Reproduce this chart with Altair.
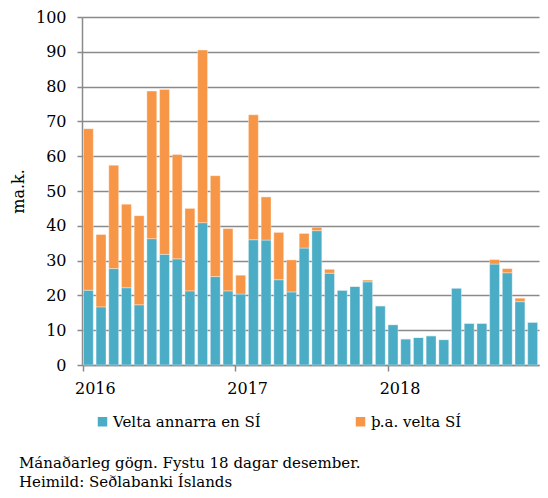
import altair as alt
import pandas as pd

years = ["2016", "2017", "2018"]
month_index = list(range(36))
blue = [21.5, 16.7, 27.7, 22.2, 17.3, 36.3, 31.8, 30.5, 21.3, 40.9, 25.4, 21.3,
        20.4, 36.0, 35.9, 24.5, 21.0, 33.6, 38.6, 26.4, 21.5, 22.6, 23.9, 17.0,
        11.6, 7.5, 7.9, 8.4, 7.3, 22.1, 12.0, 12.0, 29.0, 26.5, 18.2, 12.3]
orange = [46.4, 20.8, 29.7, 24.0, 25.6, 42.4, 47.4, 30.0, 23.7, 49.6, 29.0, 17.9,
          5.4, 35.9, 12.4, 13.6, 9.2, 4.2, 1.0, 1.1, 0.0, 0.0, 0.5, 0.0,
          0.0, 0.0, 0.0, 0.0, 0.0, 0.0, 0.0, 0.0, 1.3, 1.2, 1.0, 0.0]
series = ["Velta annarra en SÍ", "þ.a. velta SÍ"]
colors = ["#4BACC6", "#F79646"]
footnote = ["Mánaðarleg gögn. Fystu 18 dagar desember.", "Heimild: Seðlabanki Íslands"]

rows = []
for i in month_index:
    rows.append({"m": i, "s": series[0], "v": blue[i], "o": 0})
    rows.append({"m": i, "s": series[1], "v": orange[i], "o": 1})
df = pd.DataFrame(rows)

FONT = "DejaVu Serif"
label_expr = "datum.value == 0 ? '2016' : datum.value == 12 ? '2017' : datum.value == 24 ? '2018' : ''"

chart = alt.Chart(df).mark_bar(stroke="white", strokeWidth=0.6, strokeOpacity=0.6).encode(
    x=alt.X("m:O", title=None,
            scale=alt.Scale(paddingInner=0.22, paddingOuter=0.11),
            axis=alt.Axis(values=[0, 12, 24], labelExpr=label_expr, labelAngle=0,
                          bandPosition=0, labelOffset=7, labelFont=FONT, labelFontSize=16,
                          labelColor="black", domainColor="#8a8a8a", domainWidth=1.5,
                          tickColor="#8a8a8a", tickWidth=1.5, tickSize=6, labelPadding=9,
                          grid=False)),
    y=alt.Y("v:Q", title="ma.k.", stack="zero",
            scale=alt.Scale(domain=[0, 100], nice=False),
            axis=alt.Axis(values=list(range(0, 101, 10)), labelFont=FONT, labelFontSize=16,
                          labelColor="black", titleFont=FONT, titleFontSize=16,
                          titleFontWeight="normal", titleColor="black", titlePadding=9,
                          domainColor="#8a8a8a", domainWidth=1.5, tickColor="#8a8a8a",
                          tickWidth=1.5, tickSize=5, labelPadding=11,
                          gridColor="#8a8a8a", gridWidth=1.5)),
    color=alt.Color("s:N", scale=alt.Scale(domain=series, range=colors),
                    legend=alt.Legend(title=None, orient="none", legendX=13, legendY=397,
                                      direction="horizontal", columns=2, columnPadding=92,
                                      symbolType="square", symbolSize=90, symbolStrokeWidth=0,
                                      labelFont=FONT, labelFontSize=15, labelColor="black",
                                      labelOffset=3, labelLimit=300)),
    order=alt.Order("o:Q"),
).properties(
    width=457, height=348,
    autosize=alt.AutoSizeParams(type="none"),
    padding={"left": 74, "top": 9, "right": 1, "bottom": 125},
    title=alt.TitleParams(text=footnote, orient="bottom", anchor="start", frame="group",
                          font=FONT, fontSize=15, fontWeight="normal", color="black",
                          dx=-63, offset=26, lineHeight=19),
).configure_view(stroke=None)

chart.save("out.html", embed_options={"renderer": "svg", "actions": False})
